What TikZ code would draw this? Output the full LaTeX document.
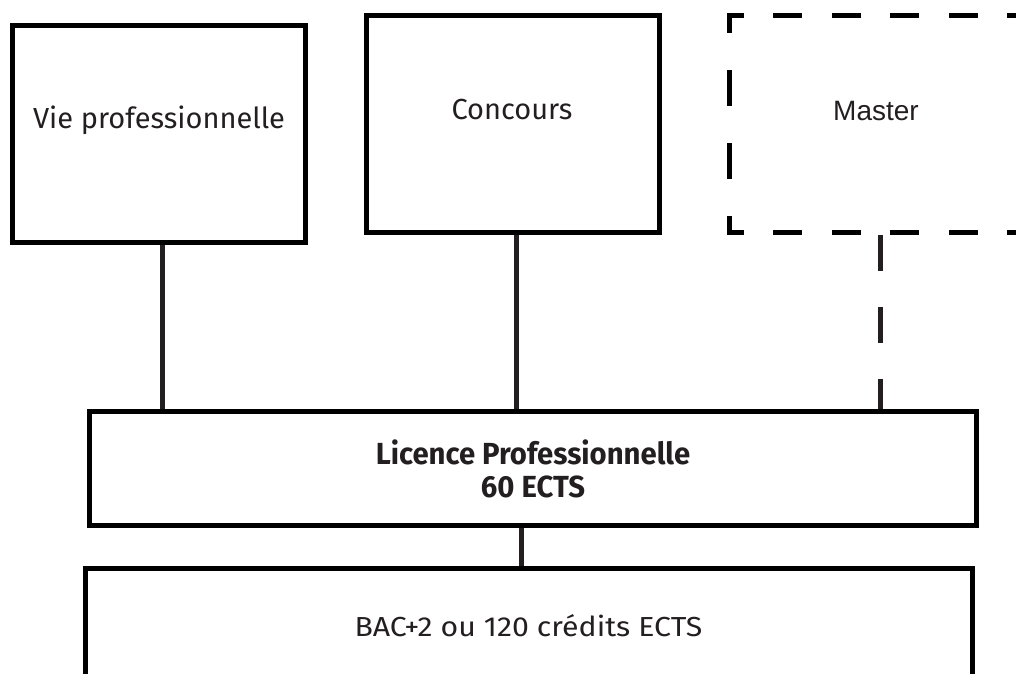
\documentclass[tikz,border=0pt]{standalone}
\usepackage{fontspec}
\setmainfont{Fira Sans}
\newfontfamily\arialf{Liberation Sans}
\newfontfamily\heavyf{Fira Sans}[FakeStretch=0.96]
\newfontfamily\widef{Fira Sans}[FakeStretch=1.1]
\definecolor{ink}{HTML}{231F20}
\tikzset{
  boxline/.style={draw=black, line width=5pt, inner sep=0pt, fill=none},
  boxnodash/.style={inner sep=0pt},
  conn/.style={draw=ink, line width=5pt},
  dconn/.style={draw=ink, line width=4.5pt, dash pattern=on 36pt off 36pt, dash phase=69.5pt},
  hdash/.style={draw=black, line width=5pt, dash pattern=on 29pt off 29.5pt, dash phase=12pt},
  vdash/.style={draw=black, line width=5pt, dash pattern=on 36pt off 37pt, dash phase=16pt},
  txt/.style={text=ink, inner sep=0pt, anchor=base},
}
\begin{document}
\begin{tikzpicture}[x=1pt, y=-1pt]
\useasboundingbox (0,0) rectangle (1016,673);
\clip (0,0) rectangle (1016,673);
\fill[white] (0,0) rectangle (1016,673);
% boxes
\node[boxline, minimum width=292.5pt, minimum height=217pt] (vie) at (158.75,134) {};
\node[boxline, minimum width=292.5pt, minimum height=217.5pt] (conc) at (512.75,123.75) {};
\node[boxnodash, minimum width=291.5pt, minimum height=217pt] (mast) at (875.25,124) {};
\node[boxline, minimum width=887.5pt, minimum height=114pt] (lic) at (532.75,468.5) {};
\node[boxline, minimum width=887pt, minimum height=115pt] (bac) at (528.5,626) {};
% dashed master border
\draw[hdash] ([xshift=-2.5pt]mast.north west) -- ([xshift=2.5pt]mast.north east);
\draw[hdash] ([xshift=-2.5pt]mast.south west) -- ([xshift=2.5pt]mast.south east);
\draw[vdash] ([yshift=2.5pt]mast.north west) -- ([yshift=-2.5pt]mast.south west);
\draw[vdash] ([yshift=2.5pt]mast.north east) -- ([yshift=-2.5pt]mast.south east);
% texts
\node[txt, font=\fontsize{29}{33}\selectfont] (tvie) at (159,128) {Vie professionnelle};
\node[txt, font=\fontsize{29}{33}\selectfont] (tconc) at (512,119) {Concours};
\node[txt, font=\arialf\fontsize{28}{32}\selectfont] (tmast) at (876,120.7) {Master};
\node[txt, font=\heavyf\bfseries\fontsize{30.5}{33}\selectfont] (tlic1) at (533,464) {Licence Professionnelle};
\node[txt, font=\heavyf\bfseries\fontsize{30.5}{33}\selectfont] (tlic2) at (533,497) {60 ECTS};
\node[txt, font=\widef\fontsize{27.5}{32}\selectfont] (tbac) at (528.5,636) {BAC+2 ou 120 crédits ECTS};
% connectors
\draw[conn] ([xshift=3.25pt]vie.south) -- ([xshift=3.25pt]vie.south |- lic.north);
\draw[conn] ([xshift=3.95pt]conc.south) -- ([xshift=3.95pt]conc.south |- lic.north);
\draw[dconn] ([xshift=5.25pt]mast.south) -- ([xshift=5.25pt]mast.south |- lic.north);
\draw[conn] ([xshift=-11.75pt]lic.south) -- ([xshift=-11.75pt]lic.south |- bac.north);
\end{tikzpicture}
\end{document}
